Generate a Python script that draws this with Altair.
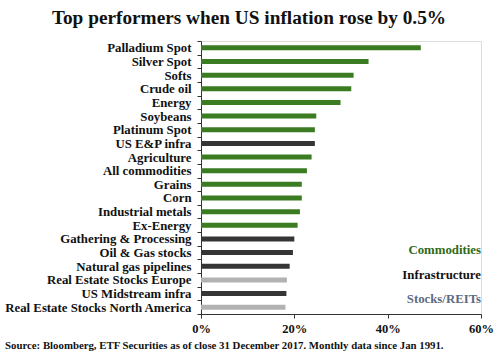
import altair as alt
import pandas as pd

categories = [
    "Palladium Spot", "Silver Spot", "Softs", "Crude oil", "Energy", "Soybeans",
    "Platinum Spot", "US E&P infra", "Agriculture", "All commodities", "Grains",
    "Corn", "Industrial metals", "Ex-Energy", "Gathering & Processing",
    "Oil & Gas stocks", "Natural gas pipelines", "Real Estate Stocks Europe",
    "US Midstream infra", "Real Estate Stocks North America",
]
values = [47.1, 35.9, 32.7, 32.2, 29.9, 24.7, 24.4, 24.4, 23.7, 22.7, 21.6,
          21.6, 21.2, 20.7, 20.0, 19.7, 19.0, 18.4, 18.3, 18.1]
groups = ["Commodities"] * 7 + ["Infrastructure"] + ["Commodities"] * 6 + \
         ["Infrastructure"] * 3 + ["Stocks/REITs", "Infrastructure", "Stocks/REITs"]

group_names = ["Commodities", "Infrastructure", "Stocks/REITs"]
group_colors = ["#3b7b22", "#353535", "#b2b2b2"]
legend_text_colors = ["#2f6a17", "#111111", "#5b6b82"]

title_text = "Top performers when US inflation rose by 0.5%"
source_text = ("Source: Bloomberg, ETF Securities as of close 31 December 2017. "
               "Monthly data since Jan 1991.")

FONT = "'Liberation Serif', 'DejaVu Serif', serif"

df = pd.DataFrame({"cat": categories, "val": [v / 100 for v in values], "grp": groups})

bars = alt.Chart(df).mark_bar(size=5).encode(
    y=alt.Y("cat:N", sort=categories, title=None,
            axis=alt.Axis(tickBand="extent", tickSize=4, labelPadding=6,
                          labelFont=FONT, labelFontWeight="bold", labelFontSize=12.8,
                          labelColor="#111111", domainColor="#333333",
                          tickColor="#333333", labelLimit=300),
            scale=alt.Scale(paddingInner=0, paddingOuter=0)),
    x=alt.X("val:Q", title=None,
            scale=alt.Scale(domain=[0, 0.6], nice=False),
            axis=alt.Axis(values=[0, 0.2, 0.4, 0.6], format=".0%", grid=False,
                          tickSize=4, labelPadding=4, labelFont=FONT,
                          labelFontWeight="bold", labelFontSize=12.5,
                          labelColor="#111111", domainColor="#333333",
                          tickColor="#333333", labelFlush=False)),
    color=alt.Color("grp:N", scale=alt.Scale(domain=group_names, range=group_colors),
                    legend=None),
)

legend_y = [209, 234, 258]
legend_layers = []
for name, col, yy in zip(group_names, legend_text_colors, legend_y):
    legend_layers.append(
        alt.Chart(pd.DataFrame({"t": [name]})).mark_text(
            align="right", baseline="middle", font=FONT, fontWeight="bold",
            fontSize=12.8, color=col
        ).encode(text="t:N", x=alt.value(280), y=alt.value(yy))
    )

source = alt.Chart(pd.DataFrame({"t": [source_text]})).mark_text(
    align="left", baseline="middle", font=FONT, fontWeight="bold",
    fontSize=10.8, color="#111111"
).encode(text="t:N", x=alt.value(-196), y=alt.value(305))

chart = alt.layer(bars, *legend_layers, source).properties(
    width=280, height=273,
    title=alt.TitleParams(title_text, font=FONT, fontSize=19.3, fontWeight="bold",
                          color="#111111", anchor="middle", frame="group",
                          dx=-92, offset=-8, baseline="alphabetic"),
    autosize=alt.AutoSizeParams(type="none"),
    padding={"left": 201, "right": 19, "top": 41, "bottom": 39},
).configure_view(stroke=None).configure(background="white")

chart.save("out.html", embed_options={"renderer": "svg", "actions": False})
